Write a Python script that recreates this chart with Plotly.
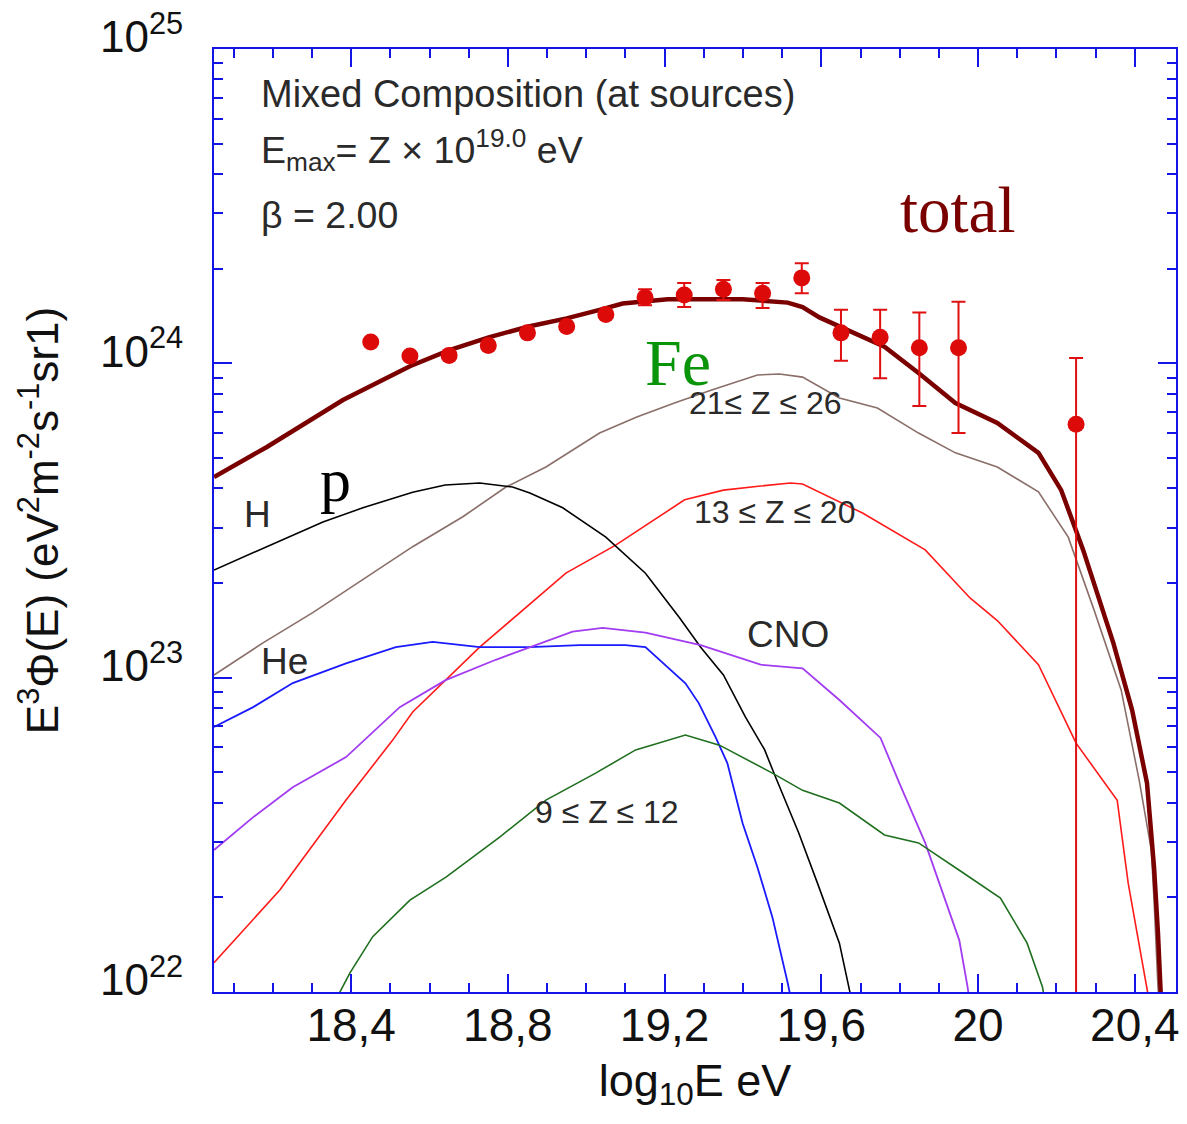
import plotly.graph_objects as go

# ---- measured spectrum (log10 E, E^3 J, upper / lower error limits) ----
obs_logE = [18.45, 18.55, 18.65, 18.75, 18.85, 18.95, 19.05, 19.15, 19.25,
            19.35, 19.45, 19.55, 19.65, 19.75, 19.85, 19.95, 20.25]
obs_flux = [1.17e24, 1.055e24, 1.06e24, 1.14e24, 1.25e24, 1.31e24, 1.43e24,
            1.62e24, 1.65e24, 1.72e24, 1.67e24, 1.87e24, 1.25e24, 1.21e24,
            1.12e24, 1.12e24, 6.4e23]
obs_hi = [1.17e24, 1.055e24, 1.06e24, 1.14e24, 1.25e24, 1.31e24, 1.43e24,
          1.72e24, 1.80e24, 1.84e24, 1.80e24, 2.08e24, 1.48e24, 1.48e24,
          1.45e24, 1.57e24, 1.04e24]
obs_lo = [1.17e24, 1.055e24, 1.06e24, 1.14e24, 1.25e24, 1.31e24, 1.43e24,
          1.53e24, 1.51e24, 1.59e24, 1.50e24, 1.67e24, 1.02e24, 8.97e23,
          7.31e23, 6.0e23, 1e21]

# ---- propagated model components ----
total_logE = [18.05, 18.185, 18.379, 18.55, 18.649, 18.751, 18.853, 18.95, 19.034,
              19.093, 19.208, 19.399, 19.514, 19.552, 19.595, 19.628, 19.705,
              19.761, 19.848, 19.942, 20.049, 20.154, 20.212, 20.268, 20.345,
              20.393, 20.431, 20.449, 20.459, 20.465, 20.467]
total_flux = [4.35e23, 5.42e23, 7.64e23, 9.79e23, 1.10e24, 1.21e24, 1.31e24, 1.39e24,
              1.48e24, 1.55e24, 1.60e24, 1.60e24, 1.56e24, 1.51e24, 1.40e24,
              1.34e24, 1.21e24, 1.13e24, 9.31e23, 7.48e23, 6.46e23, 5.19e23,
              3.95e23, 2.55e23, 1.29e23, 7.89e22, 4.62e22, 2.49e22, 1.54e22,
              1.04e22, 9.3e21]

fe_logE = [18.05, 18.175, 18.302, 18.43, 18.557, 18.685, 18.795, 18.897, 19.034,
           19.129, 19.225, 19.32, 19.437, 19.493, 19.552, 19.646, 19.743, 19.848,
           19.942, 20.049, 20.154, 20.23, 20.296, 20.365, 20.411, 20.442, 20.449,
           20.459, 20.462]
fe_flux = [1.02e23, 1.29e23, 1.61e23, 2.05e23, 2.61e23, 3.25e23, 4.04e23, 4.68e23,
           6.0e23, 6.75e23, 7.48e23, 8.22e23, 9.18e23, 9.25e23, 9.04e23, 7.76e23,
           7.21e23, 6.0e23, 5.19e23, 4.68e23, 3.90e23, 2.80e23, 1.64e23, 9.14e22,
           4.72e22, 2.83e22, 1.96e22, 1.04e22, 9.3e21]

si_logE = [18.05, 18.218, 18.387, 18.506, 18.557, 18.728, 18.948, 19.075, 19.251,
           19.35, 19.445, 19.521, 19.552, 19.705, 19.865, 19.98, 20.049, 20.154,
           20.25, 20.355, 20.383, 20.431, 20.437]
si_flux = [1.24e22, 2.11e22, 4.08e22, 6.33e22, 7.78e22, 1.25e23, 2.15e23, 2.64e23,
           3.68e23, 3.95e23, 4.07e23, 4.16e23, 4.13e23, 3.34e23, 2.55e23, 1.79e23,
           1.52e23, 1.10e23, 6.19e22, 4.07e22, 2.22e22, 1.04e22, 9.3e21]

h_logE = [18.05, 18.328, 18.43, 18.557, 18.64, 18.728, 18.812, 18.856, 18.94,
          19.05, 19.151, 19.238, 19.292, 19.35, 19.406, 19.455, 19.483, 19.542,
          19.59, 19.646, 19.672, 19.685]
h_flux = [2.20e23, 3.13e23, 3.47e23, 3.89e23, 4.10e23, 4.16e23, 4.04e23, 3.87e23,
          3.47e23, 2.80e23, 2.15e23, 1.55e23, 1.25e23, 1.02e23, 7.5e22, 5.9e22,
          4.83e22, 3.21e22, 2.22e22, 1.43e22, 1.01e22, 8.7e21]

he_logE = [18.05, 18.15, 18.251, 18.387, 18.514, 18.608, 18.728, 18.856, 18.983,
           19.1, 19.151, 19.253, 19.287, 19.33, 19.36, 19.399, 19.437, 19.475,
           19.514, 19.524]
he_flux = [6.97e22, 8.06e22, 9.61e22, 1.11e23, 1.25e23, 1.30e23, 1.25e23, 1.25e23,
           1.27e23, 1.27e23, 1.25e23, 9.6e22, 8.3e22, 6.47e22, 5.35e22, 3.44e22,
           2.49e22, 1.73e22, 1.07e22, 9.3e21]

cno_logE = [18.05, 18.15, 18.251, 18.387, 18.524, 18.641, 18.769, 18.856, 18.965,
            19.042, 19.151, 19.292, 19.445, 19.552, 19.646, 19.751, 19.799, 19.865,
            19.914, 19.952, 19.973, 19.978]
cno_flux = [2.83e22, 3.60e22, 4.48e22, 5.59e22, 8.06e22, 9.82e22, 1.14e23, 1.25e23,
            1.40e23, 1.44e23, 1.39e23, 1.27e23, 1.10e23, 1.07e23, 8.49e22, 6.43e22,
            4.62e22, 2.98e22, 2.0e22, 1.46e22, 1.04e22, 9.4e21]

mg_logE = [18.358, 18.397, 18.455, 18.55, 18.642, 18.779, 18.897, 19.024, 19.126,
           19.253, 19.34, 19.475, 19.552, 19.646, 19.761, 19.848, 19.952, 20.057,
           20.125, 20.164, 20.171]
mg_flux = [9.3e21, 1.15e22, 1.50e22, 1.96e22, 2.32e22, 3.11e22, 4.08e22, 4.97e22,
           5.89e22, 6.57e22, 6.1e22, 4.97e22, 4.38e22, 3.99e22, 3.16e22, 2.98e22,
           2.44e22, 1.99e22, 1.43e22, 1.04e22, 9.3e21]

x_tickvals = [18.4, 18.8, 19.2, 19.6, 20.0, 20.4]
x_ticktext = ["18,4", "18,8", "19,2", "19,6", "20", "20,4"]
x_minor = [round(18.1 + 0.1 * i, 1) for i in range(24)]
y_tickvals = [1e22, 1e23, 1e24, 1e25]
y_ticktext = ["10<sup>22</sup>", "10<sup>23</sup>", "10<sup>24</sup>", "10<sup>25</sup>"]
y_minor = [float(m) * 10.0 ** d for d in (22, 23, 24) for m in range(2, 10)]

AXIS_BLUE = "#1414e6"
SANS = "Liberation Sans, Arial, Helvetica, sans-serif"
SERIF = "Liberation Serif, Times New Roman, serif"

fig = go.Figure()

components = [
    (fe_logE, fe_flux, "#8a6e69", 1.6),
    (si_logE, si_flux, "#ff1a1a", 1.6),
    (h_logE, h_flux, "#000000", 1.6),
    (he_logE, he_flux, "#1a1aff", 1.8),
    (cno_logE, cno_flux, "#a23cf0", 1.8),
    (mg_logE, mg_flux, "#1f6f1f", 1.6),
    (total_logE, total_flux, "#7a0000", 4.5),
]
for xs, ys, col, w in components:
    fig.add_trace(go.Scatter(x=xs, y=ys, mode="lines",
                             line=dict(color=col, width=w), showlegend=False,
                             hoverinfo="skip"))

fig.add_trace(go.Scatter(
    x=obs_logE, y=obs_flux, mode="markers",
    marker=dict(symbol="circle", size=17, color="#dd0a0a"),
    error_y=dict(type="data", symmetric=False,
                 array=[h - f for h, f in zip(obs_hi, obs_flux)],
                 arrayminus=[f - l for f, l in zip(obs_flux, obs_lo)],
                 color="#e01010", thickness=2, width=7),
    showlegend=False))

ann_dark = "#2a2a2a"
annotations = [
    dict(x=0.047, y=0.952, text="Mixed Composition (at sources)", xanchor="left",
         font=dict(family=SANS, size=38, color=ann_dark)),
    dict(x=0.047, y=0.893, text="E<sub>max</sub>= Z × 10<sup>19.0</sup> eV", xanchor="left",
         font=dict(family=SANS, size=37.5, color=ann_dark)),
    dict(x=0.047, y=0.824, text="β = 2.00", xanchor="left",
         font=dict(family=SANS, size=37.5, color=ann_dark)),
    dict(x=0.773, y=0.829, text="total", font=dict(family=SERIF, size=65, color="#7a0000")),
    dict(x=0.482, y=0.668, text="Fe", font=dict(family=SERIF, size=66, color="#0a940a")),
    dict(x=0.126, y=0.543, text="p", font=dict(family=SERIF, size=62, color="#000000")),
    dict(x=0.0447, y=0.506, text="H", font=dict(family=SANS, size=37, color=ann_dark)),
    dict(x=0.0738, y=0.350, text="He", font=dict(family=SANS, size=37, color=ann_dark)),
    dict(x=0.573, y=0.625, text="21≤ Z ≤ 26", font=dict(family=SANS, size=32, color=ann_dark)),
    dict(x=0.583, y=0.509, text="13 ≤ Z ≤ 20", font=dict(family=SANS, size=32, color=ann_dark)),
    dict(x=0.597, y=0.3786, text="CNO", font=dict(family=SANS, size=37, color=ann_dark)),
    dict(x=0.4085, y=0.191, text="9 ≤ Z ≤ 12", font=dict(family=SANS, size=32, color=ann_dark)),
]
for a in annotations:
    a.setdefault("xanchor", "center")
    a.update(xref="paper", yref="paper", showarrow=False, yanchor="middle")
fig.update_layout(annotations=annotations)

fig.update_xaxes(
    range=[18.05, 20.505], showgrid=False, zeroline=False,
    showline=True, linecolor=AXIS_BLUE, linewidth=2, mirror="ticks",
    ticks="inside", ticklen=18, tickwidth=2, tickcolor=AXIS_BLUE,
    tickmode="array", tickvals=x_tickvals, ticktext=x_ticktext,
    ticklabelstandoff=-8,
    tickfont=dict(family=SANS, size=46, color="#111111"),
    minor=dict(ticks="inside", ticklen=9, tickwidth=2, tickcolor=AXIS_BLUE,
               tickmode="array", tickvals=x_minor, showgrid=False),
    title=dict(text="log<sub>10</sub>E eV", font=dict(family=SANS, size=45, color="#111111"),
               standoff=14),
)
fig.update_yaxes(
    type="log", range=[22, 25], showgrid=False, zeroline=False,
    showline=True, linecolor=AXIS_BLUE, linewidth=2, mirror="ticks",
    ticks="inside", ticklen=18, tickwidth=2, tickcolor=AXIS_BLUE,
    tickmode="array", tickvals=y_tickvals, ticktext=y_ticktext,
    ticklabelstandoff=20, ticklabelshift=-12,
    tickfont=dict(family=SANS, size=44, color="#111111"),
    minor=dict(ticks="inside", ticklen=9, tickwidth=2, tickcolor=AXIS_BLUE,
               tickmode="array", tickvals=y_minor, showgrid=False),
    title=dict(text="E<sup>3</sup>Φ(E) (eV<sup>2</sup>m<sup>-2</sup>s<sup>-1</sup>sr1)",
               font=dict(family=SANS, size=44, color="#111111"), standoff=28),
)

fig.update_layout(
    width=1187, height=1124,
    margin=dict(l=214, r=11, t=49, b=132, autoexpand=False),
    paper_bgcolor="white", plot_bgcolor="white",
    showlegend=False,
)

fig.write_html("out.html")
